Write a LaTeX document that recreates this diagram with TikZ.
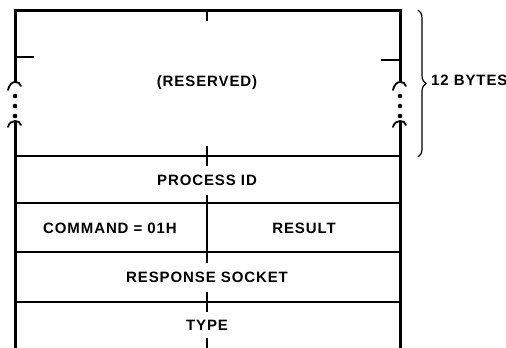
\documentclass[tikz,border=0pt]{standalone}
\usepackage{fontspec}
\setmainfont{Liberation Sans}[LetterSpace=6]
\usetikzlibrary{decorations.pathreplacing}
\begin{document}
\begin{tikzpicture}[x=1pt,y=-1pt,
  outer/.style={line width=3pt},
  inner/.style={line width=2pt},
  brk/.style={line width=1.8pt,line cap=round},
  lbl/.style={font=\bfseries\fontsize{15}{17}\selectfont,inner sep=0pt}]
\useasboundingbox (0,0) rectangle (506,348);
% coordinates
\coordinate (TL) at (15,10);
\coordinate (TR) at (400,10);
\coordinate (LB1) at (15,82);
\coordinate (LB2) at (15,124);
\coordinate (RB1) at (400,82);
\coordinate (RB2) at (400,124);
\coordinate (LBot) at (15,348);
\coordinate (RBot) at (400,348);
% outer frame
\draw[outer] (LB1) -- (TL) -- (TR) -- (RB1);
\draw[outer] (TL) -- ([xshift=-1.5pt]TL);
\draw[outer] (TR) -- ([xshift=1.5pt]TR);
\draw[outer] (LB2) -- (LBot);
\draw[outer] (RB2) -- (RBot);
% breaks left
\draw[brk] (8,90) .. controls (9,85) and (12,82) .. (LB1) .. controls (18,82) and (20,83) .. (21,86);
\draw[brk] (8,127) .. controls (9,123) and (12,121) .. (15,121) .. controls (18,121) and (20,122) .. (21,125);
\draw[outer] (15,121) -- (LB2);
\foreach \yy in {96,106,116} \fill (15,\yy) circle (2.3);
% breaks right
\draw[brk] (393,90) .. controls (394,85) and (397,82) .. (RB1) .. controls (403,82) and (405,83) .. (406,86);
\draw[brk] (393,127) .. controls (394,123) and (397,121) .. (400,121) .. controls (403,121) and (405,122) .. (406,125);
\draw[outer] (400,121) -- (RB2);
\foreach \yy in {96,106,116} \fill (400,\yy) circle (2.3);
% side ticks
\coordinate (lt) at (15,57);
\coordinate (rt) at (400,60);
\draw[inner] (lt) -- ++(19,0);
\draw[inner] (rt) -- ++(-19,0);
% horizontal rows
\foreach \yy/\nm in {156/h1,203/h2,252/h3,302/h4} {
  \coordinate (\nm l) at (15,\yy);
  \coordinate (\nm r) at (400,\yy);
  \draw[inner] (\nm l) -- (\nm r);
}
% centre ticks
\draw[inner] (207,10) -- (207,21);
\draw[inner] (207,146) -- (207,166);
\draw[inner] (207,195) -- (207,263);
\draw[inner] (207,292) -- (207,312);
\draw[inner] (207,338) -- (207,348);
% brace
\coordinate (bt) at (418,10);
\coordinate (bb) at (418,157);
\draw[line width=1.2pt,decorate,decoration={brace,amplitude=8pt}] (bt) -- (bb);
% labels
\node[lbl] (res) at (207,83) {(RESERVED)};
\node[lbl] (pid) at (207,180) {PROCESS ID};
\node[lbl] (cmd) at (110,228) {COMMAND = 01H};
\node[lbl] (rsl) at (304,228) {RESULT};
\node[lbl] (rso) at (207,277) {RESPONSE SOCKET};
\node[lbl] (typ) at (207,325) {TYPE};
\node[lbl,anchor=west] (byt) at (431,80) {12 BYTES};
\end{tikzpicture}
\end{document}
